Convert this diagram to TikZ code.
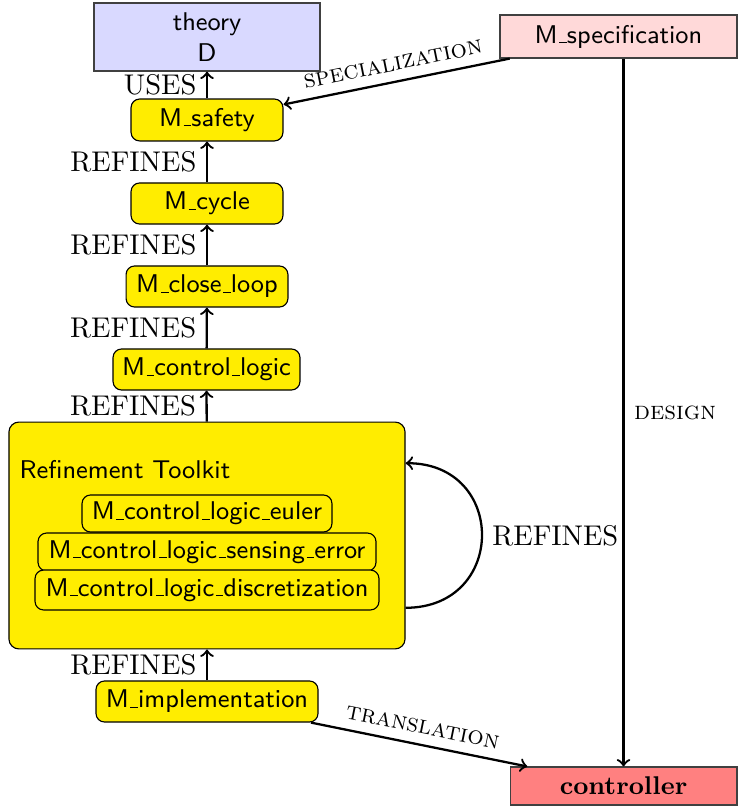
\documentclass[tikz,border=0pt]{standalone}
\usepackage{xcolor}
\definecolor{tkyellow}{RGB}{255,237,0}
\newcommand\usc{\leavevmode\kern.06em\vbox{\hrule width.3em}}
\begin{document}
\begin{tikzpicture}[x=0.3509pt,y=-0.3509pt,
  mod/.style={draw=black, fill=tkyellow, rounded corners=3pt, font=\small\sffamily, inner sep=0pt},
  arr/.style={->, thick},
  lab/.style={font=\small\scshape}]
\useasboundingbox (0,0) rectangle (737,806);
\node[draw=black!75, fill=blue!15, minimum width=79.3pt, minimum height=23.9pt, font=\small\sffamily, align=center, inner sep=0pt] (D) at (207,37) {theory\\D};
\node[draw=black!75, fill=red!15, minimum width=83.2pt, minimum height=15.1pt, font=\small\sffamily, inner sep=0pt] (spec) at (618.5,36.5) {M\usc specification};
\node[mod, minimum width=53.3pt, minimum height=14.7pt] (safety) at (207,120) {M\usc safety};
\node[mod, minimum width=53.3pt, minimum height=14.4pt] (cycle) at (207,203.5) {M\usc cycle};
\node[mod, minimum width=56.8pt, minimum height=14.4pt] (close) at (207,286.5) {M\usc close\usc loop};
\node[mod, minimum width=65.6pt, minimum height=14.4pt] (logic) at (206.5,369.5) {M\usc control\usc logic};
\node[mod, rounded corners=3.5pt, minimum width=139pt, minimum height=79.6pt] (tk) at (207,535.5) {};
\node[font=\small\sffamily, anchor=west, inner sep=0pt] (tklab) at (19,470) {Refinement Toolkit};
\node[mod, minimum width=87.7pt, minimum height=13pt] (euler) at (207,513.5) {M\usc control\usc logic\usc euler};
\node[mod, minimum width=118.6pt, minimum height=13.3pt] (sens) at (207,552) {M\usc control\usc logic\usc sensing\usc error};
\node[mod, minimum width=120.7pt, minimum height=14pt] (disc) at (207,590) {M\usc control\usc logic\usc discretization};
\node[mod, minimum width=77.9pt, minimum height=14.4pt] (impl) at (207,701.5) {M\usc implementation};
\node[draw=black!75, fill=red!50, minimum width=79.6pt, minimum height=13.3pt, font=\small\bfseries, inner sep=0pt] (ctrl) at (623.5,786) {controller};

\draw[arr] (safety) -- node[left]{USES} (D);
\draw[arr] (cycle) -- node[left]{REFINES} (safety);
\draw[arr] (close) -- node[left]{REFINES} (cycle);
\draw[arr] (logic) -- node[left]{REFINES} (close);
\draw[arr] (tk) -- node[left]{REFINES} (logic);
\draw[arr] (impl) -- node[left]{REFINES} (tk);
\draw[arr] (tk.-20) to[out=0,in=0,looseness=1.8] node[right]{REFINES} (tk.20);
\draw[arr] (spec) -- node[lab, above, sloped]{specialization} (safety);
\draw[arr] (ctrl.north |- spec.south) -- node[lab, right]{design} (ctrl.north);
\draw[arr] (impl) -- node[lab, above, sloped]{translation} (ctrl);
\end{tikzpicture}
\end{document}
